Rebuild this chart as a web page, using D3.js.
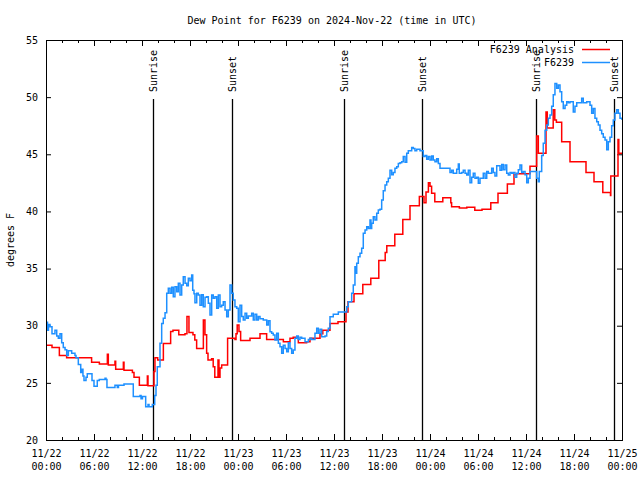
<!DOCTYPE html>
<html>
<head>
<meta charset="utf-8">
<script src="https://cdn.jsdelivr.net/npm/d3@7"></script>
<style>
  body { margin: 0; background: #fff; }
  svg { display: block; }
  text { font-family: "DejaVu Sans Mono", "Liberation Mono", monospace; }
</style>
</head>
<body>
<script>
// ---------------- DATA ----------------
const chartTitle = "Dew Point for F6239 on 2024-Nov-22 (time in UTC)";
const yLabel = "degrees F";
const seriesNames = ["F6239 Analysis", "F6239"];
const seriesColors = ["#ff0000", "#1e90ff"];
const startUTC = Date.UTC(2024, 10, 22, 0, 0);
const totalHours = 72;
const yDomain = [20, 55];
const yTicks = [20, 25, 30, 35, 40, 45, 50, 55];

// hours after 2024-11-22 00:00 UTC
const sunEventHours = [13.41, 23.21, 37.29, 47.04, 61.29, 71.04];
const sunEventLabels = ["Sunrise", "Sunset", "Sunrise", "Sunset", "Sunrise", "Sunset"];

// F6239 Analysis (hourly analysis, step)
const analysisHours = [0,0.75,1.67,2.58,5.7,6.67,7.67,7.79,8.62,8.71,9.67,9.75,10.8,11.0,11.67,12.67,12.75,13.5,13.62,13.96,14.67,15.58,15.87,16.6,17.37,17.62,17.87,18.37,18.6,18.83,19.67,19.87,20.08,20.25,20.7,20.9,21.1,21.5,21.62,21.75,21.96,22.7,23.62,23.75,23.9,24.12,24.33,25.5,26.75,27.58,29.67,30.5,30.9,31.54,32.58,33.0,34.25,34.6,35.5,36.5,37.5,37.75,38.5,39.6,40.6,41.6,42.4,42.6,43.6,44.6,45.5,46.67,47.25,47.5,47.8,48.0,48.2,48.6,49.6,50.6,50.7,51.67,52.6,53.6,54.5,55.6,56.5,57.67,58.5,58.8,60.5,61.33,61.54,62.5,62.66,63.4,63.6,63.8,64.46,65.5,67.5,68.5,69.6,70.56,70.6,71.5,71.6,72];
const analysisDewpoint = [28.3,28.1,27.4,27.2,26.8,26.65,27.5,26.56,26.9,26.2,26.8,26.1,25.9,25.5,24.8,25.6,24.75,26.0,27.2,27.0,28.45,29.5,29.6,29.2,29.3,30.8,29.4,29.2,28.75,28.0,30.5,29.2,27.6,27.0,27.1,26.4,25.5,27.0,25.5,26.3,26.56,28.9,28.8,29.3,30.06,29.5,28.7,28.9,29.3,28.8,28.6,28.9,29.0,28.5,28.6,28.9,29.3,29.6,30.2,30.35,31.2,32.1,32.8,33.6,34.15,35.7,36.4,37.0,38.0,39.3,40.5,41.3,40.76,41.7,42.5,42.2,41.6,40.85,41.2,40.76,40.4,40.3,40.36,40.1,40.2,40.76,41.6,42.4,43.2,43.3,43.95,46.6,45.1,48.7,47.3,48.9,48.0,47.8,46.1,44.35,43.4,42.6,41.65,41.4,43.1,46.3,45.1,45.1];

// F6239 station observations
const stationHours = [0,0.19,0.31,0.5,0.75,1.12,1.34,1.54,1.75,1.96,2.16,2.38,2.59,2.79,3.21,3.62,3.75,4.04,4.34,4.5,4.62,4.75,5.0,5.16,5.75,6.0,6.41,6.66,7.38,7.5,7.62,8.62,8.91,9.06,9.75,10.91,11.75,11.88,12.06,12.46,12.75,12.88,13.29,13.59,13.75,13.91,14.25,14.46,14.66,14.88,15.09,15.29,15.5,15.71,15.91,16.12,16.34,16.54,16.75,16.96,17.16,17.38,17.59,17.79,18.0,18.21,18.34,18.5,18.62,18.84,19.04,19.25,19.46,19.66,19.88,20.09,20.29,20.5,20.71,20.91,21.12,21.34,21.54,21.75,21.96,22.16,22.38,22.59,22.79,23.0,23.21,23.41,23.62,23.84,24.04,24.25,24.46,24.66,24.88,25.09,25.29,25.71,25.91,26.12,26.34,26.54,26.75,27.16,27.59,27.79,28.0,28.21,28.41,28.62,28.84,29.04,29.25,29.46,29.66,29.88,30.09,30.29,30.5,30.71,30.91,31.12,31.34,31.54,31.75,31.96,32.38,32.79,33.0,33.21,33.62,33.84,34.04,34.25,34.46,34.88,35.09,35.29,35.5,35.91,36.54,37.59,37.79,38.21,38.41,38.62,38.75,38.84,39.04,39.25,39.46,39.66,39.88,40.09,40.29,40.5,40.62,40.71,40.91,41.12,41.34,41.54,41.75,41.96,42.16,42.38,42.59,42.79,43.0,43.21,43.41,43.62,43.84,44.04,44.25,44.46,44.66,44.88,45.09,45.29,45.71,45.91,46.12,46.34,46.75,47.16,47.38,47.59,47.79,48.0,48.21,48.41,48.62,48.84,49.04,49.25,50.5,50.71,50.91,51.34,51.54,51.66,51.96,52.16,52.38,52.59,52.79,53.0,53.21,53.41,53.62,53.84,54.04,54.25,54.66,54.88,55.09,55.29,55.71,55.91,56.12,56.34,56.75,56.96,57.16,57.38,57.59,57.79,58.0,58.21,58.41,58.62,58.84,59.04,59.25,59.46,59.66,59.88,60.09,60.29,60.5,61.34,61.54,61.66,61.96,62.16,62.38,62.59,62.79,63.0,63.21,63.41,63.62,63.84,64.04,64.25,64.46,64.66,64.88,65.09,65.29,65.5,65.91,66.12,66.34,66.96,67.16,67.59,68.0,68.21,68.41,68.62,68.84,69.04,69.25,69.46,69.66,69.88,70.09,70.29,70.5,70.71,70.91,71.12,71.34,71.54,71.75,72];
const stationDewpoint = [30.3,29.6,30.1,29.9,29.3,29.6,29.1,28.9,29.3,28.5,28.1,27.9,27.4,27.8,27.6,27.4,27.2,26.6,25.9,26.2,25.6,25.2,25.5,25.8,25.2,24.7,25.2,25.3,25.4,25.3,24.6,24.8,24.6,24.8,24.9,23.8,23.9,23.6,23.8,22.9,23.1,22.9,23.1,23.9,24.8,26.4,28.46,30.2,30.65,31.14,32.84,33.27,32.84,33.36,32.54,33.41,32.98,33.71,32.69,33.56,34.29,33.71,33.5,34.15,33.94,34.44,33.1,32.8,32.0,32.84,32.69,31.8,32.7,31.67,32.49,32.54,31.96,30.94,32.69,32.4,32.54,31.52,32.69,31.67,31.8,32.1,31.38,30.79,31.38,33.56,32.84,32.25,31.67,31.52,30.35,31.8,30.8,30.5,31.1,30.65,30.85,31.1,30.5,31.0,30.5,30.8,30.6,30.5,30.06,30.44,29.48,29.34,29.19,28.75,29.34,28.46,28.16,27.59,28.3,28.0,27.73,28.52,28.0,27.6,27.88,28.9,29.1,28.8,29.0,28.9,28.6,28.8,28.9,28.8,29.34,29.77,29.34,29.7,29.04,29.1,29.5,29.77,30.79,31.0,31.2,31.67,32.1,32.84,33.56,35.17,34.6,35.46,36.04,36.33,36.77,38.08,38.38,38.67,38.5,39.25,38.5,38.96,39.54,39.25,39.83,40.13,40.2,41.0,41.81,42.31,42.6,42.9,43.6,43.2,43.4,43.77,43.9,44.2,44.25,44.35,44.8,44.3,45.08,45.3,45.6,45.5,45.3,45.43,45.3,44.8,44.9,44.56,44.8,44.5,44.85,44.5,44.35,44.6,44.2,43.77,43.4,43.6,43.33,43.7,44.15,43.33,43.4,43.6,43.33,43.19,43.6,42.5,43.0,43.33,42.9,43.0,42.46,42.9,43.33,42.9,43.5,43.33,43.77,43.4,43.1,44.0,43.6,44.1,43.65,44.06,43.33,43.19,43.4,43.33,43.4,42.98,43.33,43.65,44.06,43.4,43.5,43.2,42.5,42.9,43.5,42.9,42.6,43.5,44.9,45.96,47.1,47.56,48.15,48.44,49.2,50.2,51.2,50.77,51.06,50.48,49.6,49.0,49.3,49.6,49.5,49.6,48.7,49.2,49.5,49.9,49.5,49.6,49.3,48.6,49.0,48.15,47.85,47.56,47.1,46.8,46.5,46.25,45.4,46.1,46.5,47.5,48.0,48.6,48.9,48.6,48.15,48.0];

// ---------------- CHART ----------------
const W = 640, H = 480;
const plot = { left: 46, right: 622, top: 40, bottom: 440 };
const tAt = h => new Date(startUTC + h * 3600e3);

const x = d3.scaleUtc().domain([tAt(0), tAt(totalHours)]).range([plot.left, plot.right]);
const y = d3.scaleLinear().domain(yDomain).range([plot.bottom, plot.top]);

const svg = d3.select("body").append("svg").attr("width", W).attr("height", H);
svg.append("rect").attr("width", W).attr("height", H).attr("fill", "#fff");

const FONT = "DejaVu Sans Mono";
const FS = "10px";

// clip
svg.append("clipPath").attr("id", "clip").append("rect")
  .attr("x", plot.left).attr("y", plot.top)
  .attr("width", plot.right - plot.left).attr("height", plot.bottom - plot.top);

// ticks
const majorTicks = d3.utcHour.every(6).range(tAt(0), tAt(totalHours + 0.01));
const minorTicks = d3.utcHour.every(2).range(tAt(0), tAt(totalHours + 0.01))
  .filter(d => d.getUTCHours() % 6 !== 0);

function styleAxis(g) {
  g.select(".domain").remove();
  g.selectAll("text").attr("font-family", FONT).attr("font-size", FS).attr("fill", "#000");
  g.selectAll("line").attr("stroke", "#000");
  g.attr("font-family", FONT);
}

// bottom axis major with labels
const gxb = svg.append("g").attr("transform", `translate(0,${plot.bottom})`)
  .call(d3.axisBottom(x).tickValues(majorTicks).tickSize(-6).tickPadding(10)
    .tickFormat(d3.utcFormat("%m/%d")));
styleAxis(gxb);
gxb.selectAll(".tick text").each(function(d) {
  const t = d3.select(this);
  t.text(null).attr("dy", null);
  t.append("tspan").attr("x", 0).attr("dy", "0.71em").text(d3.utcFormat("%m/%d")(d));
  t.append("tspan").attr("x", 0).attr("dy", "1.28em").text(d3.utcFormat("%H:%M")(d));
});
// bottom minor
const gxbm = svg.append("g").attr("transform", `translate(0,${plot.bottom})`)
  .call(d3.axisBottom(x).tickValues(minorTicks).tickSize(-3).tickFormat(""));
styleAxis(gxbm);
// top major/minor
const gxt = svg.append("g").attr("transform", `translate(0,${plot.top})`)
  .call(d3.axisTop(x).tickValues(majorTicks).tickSize(-6).tickFormat(""));
styleAxis(gxt);
const gxtm = svg.append("g").attr("transform", `translate(0,${plot.top})`)
  .call(d3.axisTop(x).tickValues(minorTicks).tickSize(-3).tickFormat(""));
styleAxis(gxtm);

// y axes
const gyl = svg.append("g").attr("transform", `translate(${plot.left},0)`)
  .call(d3.axisLeft(y).tickValues(yTicks).tickSize(-5).tickPadding(8).tickFormat(d3.format("d")));
styleAxis(gyl);
const gyr = svg.append("g").attr("transform", `translate(${plot.right},0)`)
  .call(d3.axisRight(y).tickValues(yTicks).tickSize(-5).tickFormat(""));
styleAxis(gyr);

// sunrise / sunset lines
const sunG = svg.append("g");
sunEventHours.forEach((h, i) => {
  const xx = Math.round(x(tAt(h))) + 0.5;
  sunG.append("line").attr("x1", xx).attr("x2", xx).attr("y1", 99).attr("y2", plot.bottom)
    .attr("stroke", "#000").attr("stroke-width", 1.3);
  sunG.append("text")
    .attr("transform", `translate(${xx},92) rotate(-90)`)
    .attr("text-anchor", "start").attr("dominant-baseline", "central")
    .attr("font-family", FONT).attr("font-size", FS).attr("fill", "#000")
    .text(sunEventLabels[i]);
});

// data lines
const line = d3.line().x(d => x(tAt(d[0]))).y(d => y(d[1])).curve(d3.curveStepAfter);
const analysisData = analysisHours.map((h, i) => [h, analysisDewpoint[i]]);
const stationData = stationHours.map((h, i) => [h, stationDewpoint[i]]);

const dataG = svg.append("g").attr("clip-path", "url(#clip)");
dataG.append("path").datum(analysisData).attr("d", line)
  .attr("fill", "none").attr("stroke", seriesColors[0]).attr("stroke-width", 1.5);
dataG.append("path").datum(stationData).attr("d", line)
  .attr("fill", "none").attr("stroke", seriesColors[1]).attr("stroke-width", 1.5);

// frame
svg.append("rect").attr("x", plot.left + 0.5).attr("y", plot.top + 0.5)
  .attr("width", plot.right - plot.left).attr("height", plot.bottom - plot.top)
  .attr("fill", "none").attr("stroke", "#000").attr("stroke-width", 1);

// legend
const legendY = [49.5, 62.5];
seriesNames.forEach((name, i) => {
  svg.append("text").attr("x", 574).attr("y", legendY[i])
    .attr("text-anchor", "end").attr("dominant-baseline", "central")
    .attr("font-family", FONT).attr("font-size", FS).attr("fill", "#000").text(name);
  svg.append("line").attr("x1", 582).attr("x2", 610).attr("y1", legendY[i]).attr("y2", legendY[i])
    .attr("stroke", seriesColors[i]).attr("stroke-width", 1.5);
});

// title
svg.append("text").attr("x", 332).attr("y", 20)
  .attr("text-anchor", "middle").attr("dominant-baseline", "central")
  .attr("font-family", FONT).attr("font-size", FS).attr("fill", "#000").text(chartTitle);

// y label
svg.append("text").attr("transform", "translate(10,240) rotate(-90)")
  .attr("text-anchor", "middle").attr("dominant-baseline", "central")
  .attr("font-family", FONT).attr("font-size", FS).attr("fill", "#000").text(yLabel);
</script>
</body>
</html>
